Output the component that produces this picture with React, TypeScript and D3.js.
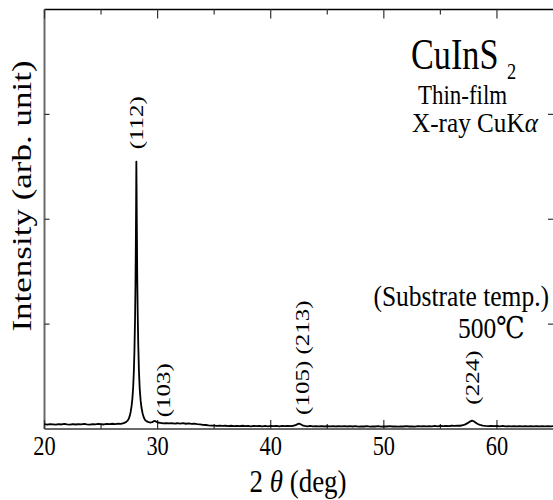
import React from "react";
import * as d3 from "d3";

// ---- data -------------------------------------------------------------
const xTicks = [20, 30, 40, 50, 60];
const xMinorTicks = [25, 35, 45, 55];
const yTicks = [1, 2, 3];

// [2θ (deg), intensity (arb.)]
const xrdPattern: [number, number][] = [
  [20.0, 0.046], [20.25, 0.042], [20.5, 0.047], [20.75, 0.044], [21.0, 0.041],
  [21.25, 0.046], [21.5, 0.043], [21.75, 0.048], [22.0, 0.044], [22.25, 0.041],
  [22.5, 0.046], [22.75, 0.043], [23.0, 0.047], [23.25, 0.044], [23.5, 0.049],
  [23.75, 0.045], [24.0, 0.042], [24.25, 0.047], [24.5, 0.045], [24.75, 0.049],
  [25.0, 0.046], [25.25, 0.043], [25.5, 0.048], [25.75, 0.046], [26.0, 0.05],
  [26.25, 0.047], [26.5, 0.051], [26.75, 0.049], [27.0, 0.056], [27.2, 0.066],
  [27.35, 0.08], [27.45, 0.098], [27.55, 0.13], [27.62, 0.165], [27.7, 0.22],
  [27.77, 0.29], [27.84, 0.4], [27.9, 0.55], [27.95, 0.74], [28.0, 1.02],
  [28.04, 1.35], [28.07, 1.7], [28.1, 2.15], [28.12, 2.55], [28.14, 2.3],
  [28.17, 1.85], [28.2, 1.45], [28.24, 1.1], [28.29, 0.8], [28.35, 0.55],
  [28.42, 0.38], [28.5, 0.27], [28.58, 0.2], [28.67, 0.15], [28.78, 0.11],
  [28.9, 0.085], [29.05, 0.072], [29.2, 0.066], [29.4, 0.062], [29.55, 0.066],
  [29.65, 0.074], [29.75, 0.078], [29.85, 0.072], [30.0, 0.062], [30.25, 0.058],
  [30.5, 0.054], [30.75, 0.057], [31.0, 0.053], [31.25, 0.056], [31.5, 0.052],
  [31.75, 0.055], [32.0, 0.051], [32.25, 0.055], [32.5, 0.05], [32.75, 0.053],
  [33.0, 0.049], [33.25, 0.052], [33.5, 0.047], [33.75, 0.044], [34.0, 0.04],
  [34.25, 0.038], [34.5, 0.035], [34.75, 0.033], [35.0, 0.032], [35.25, 0.03],
  [35.5, 0.033], [35.75, 0.029], [36.0, 0.031], [36.25, 0.028], [36.5, 0.031],
  [36.75, 0.027], [37.0, 0.03], [37.25, 0.028], [37.5, 0.031], [37.75, 0.027],
  [38.0, 0.029], [38.25, 0.026], [38.5, 0.03], [38.75, 0.027], [39.0, 0.029],
  [39.25, 0.026], [39.5, 0.029], [39.75, 0.026], [40.0, 0.029], [40.25, 0.027],
  [40.5, 0.03], [40.75, 0.026], [41.0, 0.029], [41.25, 0.027], [41.5, 0.03],
  [41.75, 0.028], [42.0, 0.031], [42.2, 0.036], [42.35, 0.046], [42.5, 0.052],
  [42.65, 0.045], [42.8, 0.035], [43.0, 0.029], [43.25, 0.026], [43.5, 0.029],
  [43.75, 0.025], [44.0, 0.028], [44.25, 0.025], [44.5, 0.028], [44.75, 0.024],
  [45.0, 0.027], [45.25, 0.025], [45.5, 0.028], [45.75, 0.024], [46.0, 0.027],
  [46.25, 0.025], [46.5, 0.028], [46.75, 0.024], [47.0, 0.027], [47.25, 0.024],
  [47.5, 0.027], [47.75, 0.023], [48.0, 0.026], [48.25, 0.024], [48.5, 0.027],
  [48.75, 0.023], [49.0, 0.026], [49.25, 0.024], [49.5, 0.027], [49.75, 0.023],
  [50.0, 0.026], [50.25, 0.024], [50.5, 0.027], [50.75, 0.024], [51.0, 0.026],
  [51.25, 0.023], [51.5, 0.026], [51.75, 0.024], [52.0, 0.027], [52.25, 0.024],
  [52.5, 0.026], [52.75, 0.023], [53.0, 0.027], [53.25, 0.025], [53.5, 0.028],
  [53.75, 0.025], [54.0, 0.028], [54.25, 0.026], [54.5, 0.029], [54.75, 0.026],
  [55.0, 0.029], [55.25, 0.027], [55.5, 0.03], [55.75, 0.027], [56.0, 0.031],
  [56.25, 0.029], [56.5, 0.032], [56.75, 0.031], [57.0, 0.036], [57.2, 0.044],
  [57.4, 0.056], [57.6, 0.07], [57.8, 0.08], [57.95, 0.074], [58.1, 0.062],
  [58.3, 0.048], [58.5, 0.039], [58.75, 0.033], [59.0, 0.03], [59.25, 0.028],
  [59.5, 0.03], [59.75, 0.027], [60.0, 0.029], [60.25, 0.026], [60.5, 0.029],
  [60.75, 0.026], [61.0, 0.028], [61.25, 0.025], [61.5, 0.028], [61.75, 0.025],
  [62.0, 0.028], [62.25, 0.026], [62.5, 0.028], [62.75, 0.025], [63.0, 0.028],
  [63.25, 0.025], [63.5, 0.028], [63.75, 0.025], [64.0, 0.027], [64.25, 0.025],
  [64.5, 0.028], [64.75, 0.025], [65.0, 0.027],
];

const peakLabels = ["(112)", "(103)", "(105) (213)", "(224)"];
const peakLabelAngles = [28.15, 30.5, 42.85, 57.8];

// ---- layout -------------------------------------------------------------
const W = 553;
const H = 500;
const M = { left: 44.5, right: 553.5, top: 9.5, bottom: 429 };
const FONT = "Liberation Serif, Times New Roman, Tinos, DejaVu Serif, Noto Serif, serif";

function SText(props: {
  x: number;
  y: number;
  size: number;
  rotate?: boolean;
  anchor?: "start" | "middle" | "end";
  baseline?: string;
  sx?: number;
  children: React.ReactNode;
}) {
  const { x, y, size, rotate, anchor = "start", baseline, sx = 0.82, children } = props;
  return (
    <g transform={`translate(${x},${y}) scale(${sx},1)${rotate ? " rotate(-90)" : ""}`}>
      <text
        style={{ fontFamily: FONT }}
        fontSize={size}
        textAnchor={anchor}
        dominantBaseline={baseline}
        fill="#000"
      >
        {children}
      </text>
    </g>
  );
}

export default function App() {
  const x = d3.scaleLinear().domain([20, 65]).range([M.left, M.right]);
  const y = d3.scaleLinear().domain([0, 4]).range([M.bottom, M.top]);

  const line = d3
    .line<[number, number]>()
    .x((d) => x(d[0]))
    .y((d) => y(d[1]))
    .curve(d3.curveLinear);

  const labelLevels = [2.92, 0.37, 0.68, 0.49];
  const frameRight = W + 2; // right border lies just outside the picture

  return (
    <svg
      width={W}
      height={H}
      style={{ position: "absolute", left: 0, top: 0, background: "#fff" }}
    >
      <rect width={W} height={H} fill="#fff" />

      {/* frame */}
      <line x1={M.left} x2={frameRight} y1={M.top} y2={M.top} stroke="#000" strokeWidth={1.3} />
      <line x1={M.left} x2={M.left} y1={M.top} y2={M.bottom} stroke="#6a6a6a" strokeWidth={2} />
      <line x1={frameRight} x2={frameRight} y1={M.top} y2={M.bottom} stroke="#6a6a6a" strokeWidth={2} />
      <line x1={M.left} x2={frameRight} y1={M.bottom} y2={M.bottom} stroke="#6a6a6a" strokeWidth={2} />

      {/* x ticks (inward, top and bottom) */}
      {xTicks.map((t) => (
        <g key={"xt" + t}>
          <line x1={x(t)} x2={x(t)} y1={M.bottom} y2={M.bottom - 9} stroke="#333" strokeWidth={1.2} />
          <line x1={x(t)} x2={x(t)} y1={M.top} y2={M.top + 9} stroke="#333" strokeWidth={1.2} />
        </g>
      ))}
      {xMinorTicks.map((t) => (
        <g key={"xm" + t}>
          <line x1={x(t)} x2={x(t)} y1={M.bottom} y2={M.bottom - 5} stroke="#333" strokeWidth={1.2} />
          <line x1={x(t)} x2={x(t)} y1={M.top} y2={M.top + 5} stroke="#333" strokeWidth={1.2} />
        </g>
      ))}
      {/* y ticks */}
      {yTicks.map((t) => (
        <g key={"yt" + t}>
          <line x1={M.left} x2={M.left + 5} y1={y(t)} y2={y(t)} stroke="#333" strokeWidth={1.2} />
          <line x1={frameRight - 7} x2={frameRight} y1={y(t)} y2={y(t)} stroke="#333" strokeWidth={1.2} />
        </g>
      ))}

      {/* pattern */}
      <path
        d={line(xrdPattern) || ""}
        fill="none"
        stroke="#000"
        strokeWidth={1.8}
        strokeLinejoin="round"
      />

      {/* x tick labels */}
      {xTicks.map((t) => (
        <SText key={"xl" + t} x={x(t)} y={455} size={28} anchor="middle" sx={0.8}>
          {String(t)}
        </SText>
      ))}

      {/* axis titles */}
      <SText x={298} y={492} size={31} anchor="middle" sx={0.87}>
        2 <tspan fontStyle="italic">θ</tspan> (deg)
      </SText>
      <SText x={22} y={196} size={35} anchor="middle" rotate baseline="central" sx={0.78}>
        Intensity (arb. unit)
      </SText>

      {/* peak labels */}
      {peakLabels.map((lab, i) => (
        <SText
          key={lab}
          x={x(peakLabelAngles[i])}
          y={y(labelLevels[i])}
          size={25}
          anchor="middle"
          rotate
          baseline="central"
          sx={0.78}
        >
          {lab}
        </SText>
      ))}

      {/* annotations */}
      <SText x={411} y={69} size={45} sx={0.76}>
        CuInS
      </SText>
      <SText x={507} y={79} size={23} sx={0.8}>
        2
      </SText>
      <SText x={418} y={104} size={27} sx={0.85}>
        Thin-film
      </SText>
      <SText x={412} y={132} size={28} sx={0.9}>
        X-ray CuK<tspan fontStyle="italic">α</tspan>
      </SText>
      <SText x={549} y={306} size={30} anchor="end" sx={0.85}>
        (Substrate temp.)
      </SText>
      <SText x={458} y={338} size={30} sx={0.85}>
        500℃
      </SText>
    </svg>
  );
}
